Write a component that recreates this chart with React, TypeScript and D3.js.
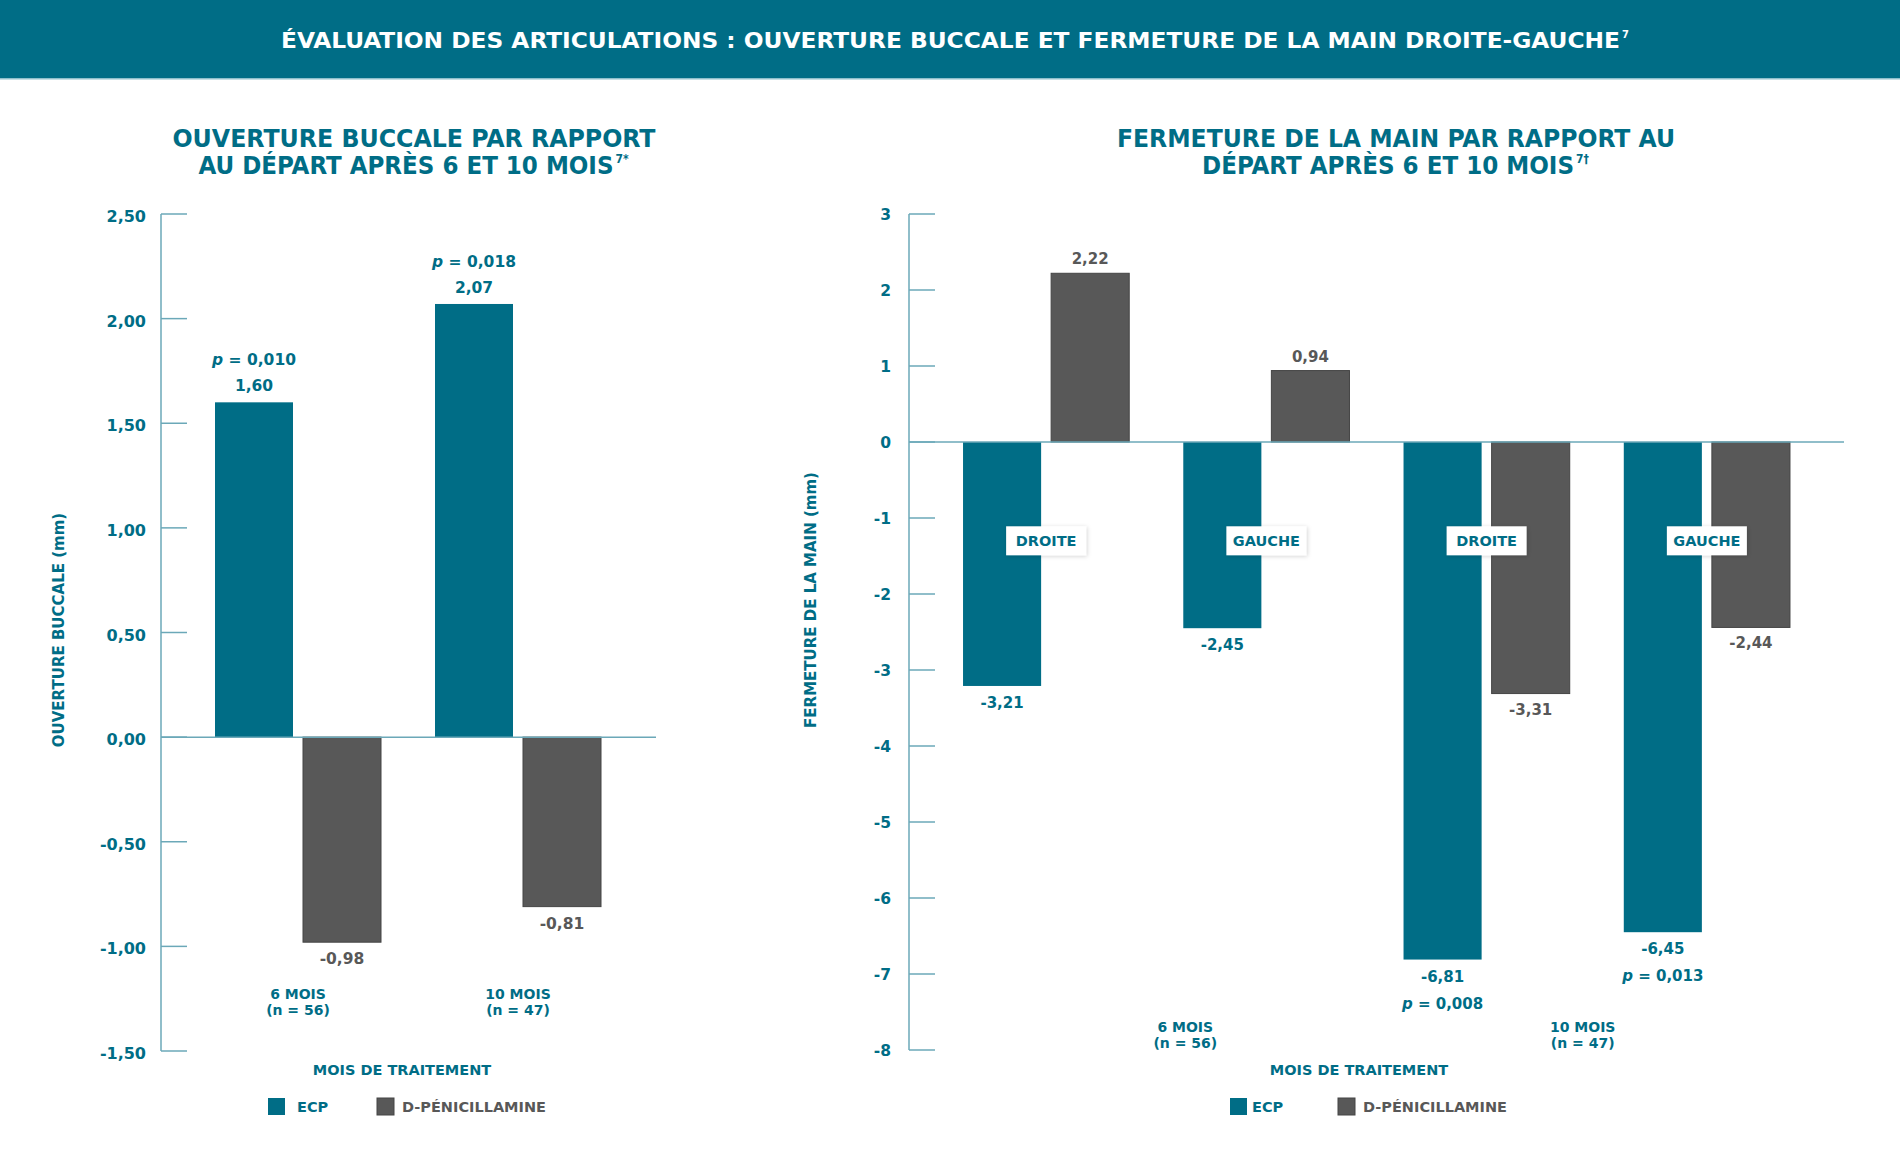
import React from "react";
import * as d3 from "d3";

const periods = ["6 MOIS", "10 MOIS"];
const periodN = ["(n = 56)", "(n = 47)"];
const seriesNames = ["ECP", "D-PÉNICILLAMINE"];

const mouthECP = [1.6, 2.07];
const mouthPen = [-0.98, -0.81];
const mouthP = ["0,010", "0,018"];
const mouthTicks = [2.5, 2, 1.5, 1, 0.5, 0, -0.5, -1, -1.5];

const handGroups = ["DROITE", "GAUCHE", "DROITE", "GAUCHE"];
const handECP = [-3.21, -2.45, -6.81, -6.45];
const handPen = [2.22, 0.94, -3.31, -2.44];
const handP = [null, null, "0,008", "0,013"];
const handTicks = [3, 2, 1, 0, -1, -2, -3, -4, -5, -6, -7, -8];

const TEAL = "#006d86";
const GREY = "#585858";
const AXIS = "#6ba8b8";
const FONT = "'DejaVu Sans', sans-serif";
const CFONT = "'DejaVu Sans Condensed', 'DejaVu Sans', sans-serif";

const loc = d3.formatLocale({ decimal: ",", thousands: " ", grouping: [3], currency: ["", "€"], minus: "-" });
const f2 = loc.format(".2f");
const f0 = loc.format("d");

function Title({ lines, cx, y0, sizes }: any) {
  return (
    <g>
      {lines.map((l: any, i: number) => (
        <g key={i}>
          <text x={cx - l.w / 2 - (l.sup ? 8 : 0)} y={y0 + i * 27} fontFamily={CFONT} fontWeight="bold" fontSize={sizes} fill={TEAL}
            textLength={l.w} lengthAdjust="spacingAndGlyphs">{l.t}</text>
          {l.sup && (
            <text x={cx + l.w / 2 - 6} y={y0 + i * 27 - 11} fontFamily={CFONT} fontWeight="bold" fontSize={12} fill={TEAL}>{l.sup}</text>
          )}
        </g>
      ))}
    </g>
  );
}

function Legend({ x, gap1, x2 }: any) {
  return (
    <g fontFamily={FONT} fontWeight="bold" fontSize={14.5}>
      <rect x={x} y={1098} width={17} height={17} fill={TEAL} />
      <text x={x + gap1} y={1112} fill={TEAL}>{seriesNames[0]}</text>
      <rect x={x2} y={1098} width={17} height={17} fill={GREY} stroke="#444" />
      <text x={x2 + 25} y={1112} fill={GREY}>{seriesNames[1]}</text>
    </g>
  );
}

function MouthChart() {
  const y = d3.scaleLinear().domain([-1.5, 2.5]).range([1051, 214]);
  const axisX = 161;
  const x0 = d3.scaleBand().domain(periods).range([188, 628]).paddingInner(54 / 220).paddingOuter(27 / 220);
  const x1 = d3.scaleBand().domain(seriesNames).range([0, x0.bandwidth()]).paddingInner(10 / 88);
  return (
    <g>
      <Title cx={414} y0={147} sizes={25}
        lines={[{ t: "OUVERTURE BUCCALE PAR RAPPORT", w: 483 }, { t: "AU DÉPART APRÈS 6 ET 10 MOIS", w: 415, sup: "7*" }]} />
      <line x1={axisX} x2={axisX} y1={y(2.5)} y2={y(-1.5)} stroke={AXIS} strokeWidth={1.5} />
      {mouthTicks.map((t) => (
        <g key={t}>
          <line x1={axisX} x2={axisX + 26} y1={y(t)} y2={y(t)} stroke={AXIS} strokeWidth={1.5} />
          <text x={axisX - 15} y={y(t) + 8} textAnchor="end" fontFamily={FONT} fontWeight="bold" fontSize={16} fill={TEAL}>{f2(t)}</text>
        </g>
      ))}
      <text transform={`translate(64,630) rotate(-90)`} textAnchor="middle" fontFamily={FONT} fontWeight="bold" fontSize={15} fill={TEAL}>OUVERTURE BUCCALE (mm)</text>
      {periods.map((p, i) => {
        const gx = x0(p)!;
        const ex = gx + x1(seriesNames[0])!;
        const px = gx + x1(seriesNames[1])!;
        const bw = x1.bandwidth();
        return (
          <g key={p}>
            <rect x={ex} y={y(mouthECP[i])} width={bw} height={y(0) - y(mouthECP[i])} fill={TEAL} />
            <rect x={px} y={y(0)} width={bw} height={y(mouthPen[i]) - y(0)} fill={GREY} stroke="#444" strokeWidth={1} />
            <text x={ex + bw / 2} y={y(mouthECP[i]) - 11} textAnchor="middle" fontFamily={FONT} fontWeight="bold" fontSize={15.5} fill={TEAL}>{f2(mouthECP[i])}</text>
            <text x={ex + bw / 2} y={y(mouthECP[i]) - 37} textAnchor="middle" fontFamily={FONT} fontWeight="bold" fontSize={15.5} fill={TEAL}>
              <tspan fontStyle="italic">p</tspan> = {mouthP[i]}
            </text>
            <text x={px + bw / 2} y={y(mouthPen[i]) + 22} textAnchor="middle" fontFamily={FONT} fontWeight="bold" fontSize={15.5} fill={GREY}>{f2(mouthPen[i])}</text>
            <text x={gx + x0.bandwidth() / 2} y={999} textAnchor="middle" fontFamily={FONT} fontWeight="bold" fontSize={14} fill={TEAL}>{p}</text>
            <text x={gx + x0.bandwidth() / 2} y={1015} textAnchor="middle" fontFamily={FONT} fontWeight="bold" fontSize={14} fill={TEAL}>{periodN[i]}</text>
          </g>
        );
      })}
      <line x1={axisX} x2={656} y1={y(0)} y2={y(0)} stroke={AXIS} strokeWidth={1.5} />
      <text x={402} y={1075} textAnchor="middle" fontFamily={FONT} fontWeight="bold" fontSize={14.5} fill={TEAL}>MOIS DE TRAITEMENT</text>
      <Legend x={268} gap1={29} x2={377} />
    </g>
  );
}

function HandChart() {
  const y = d3.scaleLinear().domain([-8, 3]).range([1050, 214]);
  const axisX = 909;
  const keys = handGroups.map((g, i) => g + i);
  const x0 = d3.scaleBand().domain(keys).range([936, 1817]).paddingInner(54 / 220).paddingOuter(27 / 220);
  const x1 = d3.scaleBand().domain(seriesNames).range([0, x0.bandwidth()]).paddingInner(10 / 88);
  const bw = x1.bandwidth();
  return (
    <g>
      <Title cx={1396} y0={147} sizes={25}
        lines={[{ t: "FERMETURE DE LA MAIN PAR RAPPORT AU", w: 558 }, { t: "DÉPART APRÈS 6 ET 10 MOIS", w: 372, sup: "7†" }]} />
      <line x1={axisX} x2={axisX} y1={y(3)} y2={y(-8)} stroke={AXIS} strokeWidth={1.5} />
      {handTicks.map((t) => (
        <g key={t}>
          <line x1={axisX} x2={axisX + 26} y1={y(t)} y2={y(t)} stroke={AXIS} strokeWidth={1.5} />
          <text x={axisX - 18} y={y(t) + 5.5} textAnchor="end" fontFamily={FONT} fontWeight="bold" fontSize={15.5} fill={TEAL}>{f0(t)}</text>
        </g>
      ))}
      <text transform={`translate(816,600) rotate(-90)`} textAnchor="middle" fontFamily={FONT} fontWeight="bold" fontSize={15} fill={TEAL}>FERMETURE DE LA MAIN (mm)</text>
      {keys.map((k, i) => {
        const gx = x0(k)!;
        const ex = gx + x1(seriesNames[0])!;
        const px = gx + x1(seriesNames[1])!;
        const e = handECP[i];
        const pv = handPen[i];
        const penTop = Math.min(y(pv), y(0));
        const penH = Math.abs(y(pv) - y(0));
        return (
          <g key={k}>
            <rect x={ex} y={y(0)} width={bw} height={y(e) - y(0)} fill={TEAL} />
            <rect x={px} y={penTop} width={bw} height={penH} fill={GREY} stroke="#444" strokeWidth={1} />
            <text x={ex + bw / 2} y={y(e) + 22} textAnchor="middle" fontFamily={FONT} fontWeight="bold" fontSize={15} fill={TEAL}>{f2(e)}</text>
            {handP[i] && (
              <text x={ex + bw / 2} y={y(e) + 49} textAnchor="middle" fontFamily={FONT} fontWeight="bold" fontSize={15} fill={TEAL}>
                <tspan fontStyle="italic">p</tspan> = {handP[i]}
              </text>
            )}
            <text x={px + bw / 2} y={pv >= 0 ? y(pv) - 9 : y(pv) + 21} textAnchor="middle" fontFamily={FONT} fontWeight="bold" fontSize={15} fill={GREY}>{f2(pv)}</text>
            <rect x={gx + x0.bandwidth() / 2 - 40} y={y(-1.3) - 14.5} width={80} height={29} fill="#fff" filter="url(#shadow)" />
            <text x={gx + x0.bandwidth() / 2} y={y(-1.3) + 5.5} textAnchor="middle" fontFamily={FONT} fontWeight="bold" fontSize={14.5} fill={TEAL}>{handGroups[i]}</text>
          </g>
        );
      })}
      <line x1={axisX} x2={1844} y1={y(0)} y2={y(0)} stroke={AXIS} strokeWidth={1.5} />
      {periods.map((p, i) => {
        const cx = i === 0 ? x0(keys[1])! + 2 : x0(keys[2])! + x0.bandwidth() + 13;
        return (
          <g key={p}>
            <text x={cx} y={1032} textAnchor="middle" fontFamily={FONT} fontWeight="bold" fontSize={14} fill={TEAL}>{p}</text>
            <text x={cx} y={1048} textAnchor="middle" fontFamily={FONT} fontWeight="bold" fontSize={14} fill={TEAL}>{periodN[i]}</text>
          </g>
        );
      })}
      <text x={1359} y={1075} textAnchor="middle" fontFamily={FONT} fontWeight="bold" fontSize={14.5} fill={TEAL}>MOIS DE TRAITEMENT</text>
      <Legend x={1230} gap1={22} x2={1338} />
    </g>
  );
}

export default function App() {
  return (
    <div>
      <style>{"body{margin:0}"}</style>
      <svg width={1900} height={1171} viewBox="0 0 1900 1171" style={{ display: "block", background: "#fff" }}>
        <defs>
          <filter id="shadow" x="-20%" y="-30%" width="140%" height="160%">
            <feDropShadow dx={1} dy={1} stdDeviation={2} floodColor="#000" floodOpacity={0.18} />
          </filter>
        </defs>
        <rect x={0} y={0} width={1900} height={79} fill={TEAL} />
        <rect x={0} y={78} width={1900} height={1.5} fill="#8dbfcc" />
        <text x={281} y={48} fontFamily={CFONT} fontWeight="bold" fontSize={22} fill="#fff" textLength={1339} lengthAdjust="spacingAndGlyphs">
          ÉVALUATION DES ARTICULATIONS : OUVERTURE BUCCALE ET FERMETURE DE LA MAIN DROITE-GAUCHE
        </text>
        <text x={1622} y={38} fontFamily={CFONT} fontWeight="bold" fontSize={11} fill="#fff">7</text>
        <MouthChart />
        <HandChart />
      </svg>
    </div>
  );
}
